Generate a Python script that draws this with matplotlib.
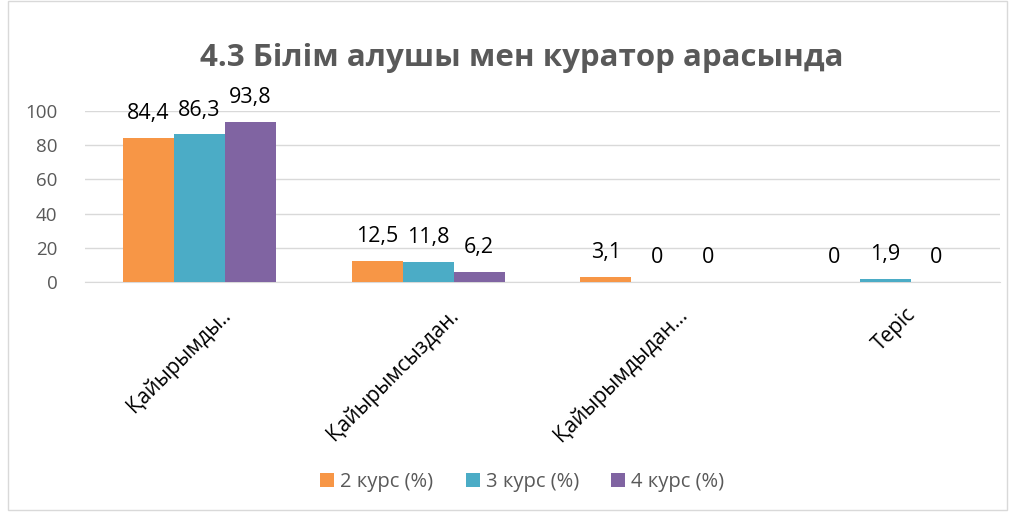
import matplotlib.pyplot as plt
import numpy as np
from matplotlib.patches import Rectangle
from matplotlib.transforms import ScaledTranslation

plt.rcParams['font.family'] = ['Open Sans', 'Noto Sans', 'DejaVu Sans']

# chart data
categories = ['Қайырымды..', 'Қайырымсыздан.', 'Қайырымдыдан...', 'Теріс']
series_names = ['2 курс (%)', '3 курс (%)', '4 курс (%)']
kurs2 = [84.4, 12.5, 3.1, 0]
kurs3 = [86.3, 11.8, 0, 1.9]
kurs4 = [93.8, 6.2, 0, 0]
colors = ['#F79646', '#4BACC6', '#8064A2']

fig = plt.figure(figsize=(10.14, 5.14), dpi=100)
ax = fig.add_axes([0.084, 0.451, 0.902, 0.333])

# light frame around the whole chart
fig.patches.append(Rectangle((0.008, 0.008), 0.985, 0.99, transform=fig.transFigure,
                             fill=False, edgecolor='#D9D9D9', linewidth=1))

x = np.arange(len(categories))
w = 0.223
for i, (vals, name, c) in enumerate(zip([kurs2, kurs3, kurs4], series_names, colors)):
    pos = x + (i - 1) * w
    ax.bar(pos, vals, width=w, color=c, label=name, zorder=3)
    for p, v in zip(pos, vals):
        txt = ('%g' % v).replace('.', ',')
        ax.text(p, v + 8, txt, ha='center', va='bottom', fontsize=15.5, color='black')

ax.set_xlim(-0.5, len(categories) - 0.5)
ax.set_ylim(0, 100)
ax.set_yticks(range(0, 101, 20))
ax.grid(axis='y', color='#D9D9D9', linewidth=1, zorder=0)
for s in ax.spines.values():
    s.set_visible(False)
ax.spines['bottom'].set_visible(True)
ax.spines['bottom'].set_color('#D9D9D9')
ax.tick_params(axis='y', length=0, labelsize=13.5, labelcolor='#595959', pad=20)
ax.tick_params(axis='x', length=0, pad=16)
ax.set_xticks(x)
ax.set_xticklabels(categories, rotation=45, ha='right', rotation_mode='anchor',
                   fontsize=15, color='black')
for lbl in ax.get_xticklabels():
    lbl.set_transform(lbl.get_transform() + ScaledTranslation(0.2, 0, fig.dpi_scale_trans))

fig.text(0.515, 0.888, '4.3 Білім алушы мен куратор арасында', ha='center', va='center',
         fontsize=22.5, fontweight='bold', color='#595959')

fig.legend(loc='center', bbox_to_anchor=(0.515, 0.062), ncol=3, frameon=False,
           fontsize=14.5, handlelength=0.7, handleheight=0.7, columnspacing=1.6,
           handletextpad=0.3, labelcolor='#595959')

fig.savefig('out.png', dpi=100)
